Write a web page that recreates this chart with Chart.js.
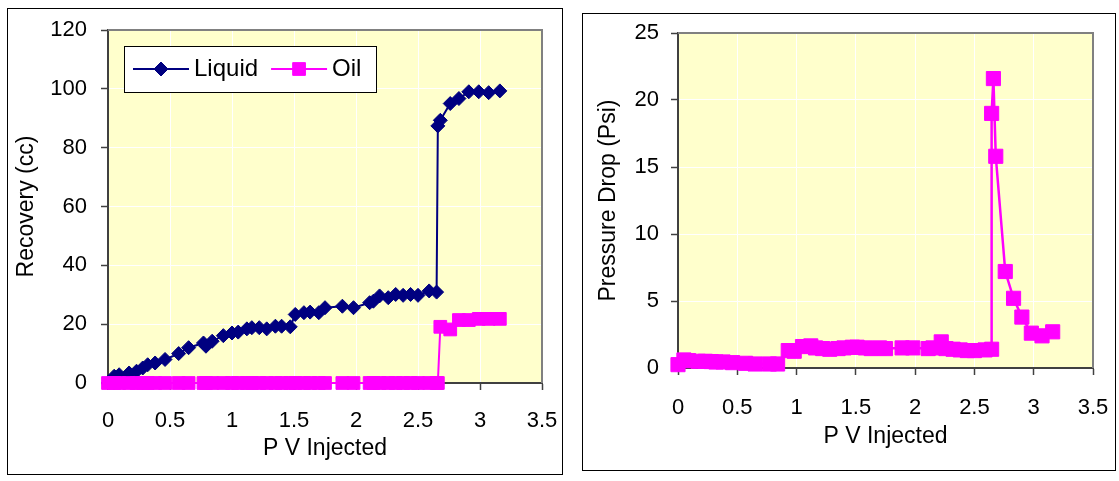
<!DOCTYPE html>
<html>
<head>
<meta charset="utf-8">
<script src="https://cdn.jsdelivr.net/npm/chart.js@4.4.0/dist/chart.umd.min.js"></script>
<style>
body{margin:0;background:#fff;width:1119px;height:481px;position:relative;overflow:hidden}
.frame{position:absolute;border:1px solid #000;box-sizing:border-box}
#f1{left:7px;top:8px;width:556px;height:467px}
#f2{left:582px;top:13px;width:534px;height:458px}
canvas{position:absolute}
#c1{left:8px;top:9px}
#c2{left:583px;top:14px}
</style>
</head>
<body>
<div class="frame" id="f1"></div>
<div class="frame" id="f2"></div>
<canvas id="c1" width="554" height="465"></canvas>
<canvas id="c2" width="532" height="456"></canvas>
<script>
// recovery chart (left)
var pvRec = [0, 0.05, 0.09, 0.17, 0.23, 0.28, 0.32, 0.38, 0.46, 0.57, 0.65, 0.77, 0.79, 0.84, 0.93, 1.0, 1.05, 1.12, 1.16, 1.22,
  1.28, 1.35, 1.40, 1.47, 1.51, 1.58, 1.63, 1.70, 1.75, 1.89, 1.98, 2.11, 2.14, 2.19, 2.26, 2.32, 2.38, 2.44, 2.50, 2.59,
  2.65, 2.66, 2.68, 2.76, 2.83, 2.91, 2.99, 3.07, 3.16];
var liquid = [0, 2.3, 2.8, 3.4, 4, 5.1, 6.2, 6.8, 8, 10, 12, 13.6, 12.5, 14.2, 16.1, 17, 17.3, 18.4, 18.8, 18.8,
  18.4, 19.3, 19.3, 19.1, 23.3, 23.9, 24.1, 23.9, 25.6, 26.1, 25.6, 27.3, 27.8, 29.6, 29, 30.1, 29.8, 30.1, 29.8, 31.3,
  30.9, 87.4, 89.3, 95, 96.7, 99, 99, 98.7, 99.3];
var oil = [0, 0, 0, 0, 0, 0, 0, 0, 0, 0, 0, 0, 0, 0, 0, 0, 0, 0, 0, 0,
  0, 0, 0, 0, 0, 0, 0, 0, 0, 0, 0, 0, 0, 0, 0, 0, 0, 0, 0, 0,
  0, 0, 19.1, 18.2, 21.4, 21.4, 21.8, 21.8, 21.8];

// pressure chart (right)
var pvDp = [0, 0.05, 0.09, 0.17, 0.23, 0.28, 0.32, 0.38, 0.46, 0.57, 0.65, 0.77, 0.84, 0.93, 0.98, 1.05, 1.12, 1.16, 1.22, 1.28,
  1.35, 1.40, 1.47, 1.51, 1.58, 1.63, 1.70, 1.75, 1.89, 1.98, 2.11, 2.15, 2.22, 2.26, 2.32, 2.38, 2.44, 2.50, 2.59, 2.645,
  2.645, 2.66, 2.68, 2.76, 2.83, 2.90, 2.98, 3.07, 3.16];
var dp = [0.25, 0.6, 0.55, 0.5, 0.5, 0.48, 0.45, 0.45, 0.4, 0.35, 0.3, 0.3, 0.3, 1.3, 1.25, 1.6, 1.65, 1.5, 1.45, 1.4,
  1.45, 1.5, 1.55, 1.55, 1.5, 1.45, 1.5, 1.45, 1.5, 1.5, 1.45, 1.5, 1.95, 1.45, 1.4, 1.35, 1.3, 1.3, 1.35, 1.4,
  19.0, 21.6, 15.8, 7.2, 5.2, 3.8, 2.6, 2.4, 2.7];

var xTitle = 'P V Injected';

Chart.defaults.font.family = '"Liberation Sans", Arial, sans-serif';
Chart.defaults.font.size = 22;
Chart.defaults.color = '#000';

function pts(xs, ys) {
    return xs.map(function (x, i) { return {x: x, y: ys[i]}; });
}

// scales must not push the plot area around, layout padding does that
function noPad(s) {
    s.paddingLeft = 0;
    s.paddingRight = 0;
    s.paddingTop = 0;
    s.paddingBottom = 0;
}

var plotBox = {
    id: 'plotBox',
    beforeDraw: function (chart) {
        var ctx = chart.ctx, a = chart.chartArea;
        ctx.save();
        ctx.fillStyle = '#FFFFCC';
        ctx.fillRect(a.left, a.top, a.right - a.left, a.bottom - a.top);
        ctx.restore();
    },
    beforeDatasetsDraw: function (chart) {
        var ctx = chart.ctx, a = chart.chartArea;
        ctx.save();
        ctx.strokeStyle = '#808080';
        ctx.lineWidth = 2;
        ctx.beginPath();
        ctx.moveTo(a.left, a.top);
        ctx.lineTo(a.right, a.top);
        ctx.lineTo(a.right, a.bottom);
        ctx.stroke();
        ctx.restore();
    }
};

var boxLegend = {
    id: 'boxLegend',
    afterDatasetsDraw: function (chart) {
        var ctx = chart.ctx, a = chart.chartArea;
        var x0 = a.left + 16, y0 = a.top + 16, w = 252, h = 46;
        ctx.save();
        ctx.fillStyle = '#fff';
        ctx.fillRect(x0, y0, w, h);
        ctx.strokeStyle = '#000';
        ctx.lineWidth = 1;
        ctx.strokeRect(x0 + 0.5, y0 + 0.5, w, h);
        ctx.font = '24px "Liberation Sans", Arial, sans-serif';
        ctx.textBaseline = 'middle';
        var x = x0 + 9, cy = y0 + h / 2;
        chart.data.datasets.forEach(function (ds) {
            ctx.strokeStyle = ds.borderColor;
            ctx.lineWidth = 2;
            ctx.beginPath();
            ctx.moveTo(x, cy);
            ctx.lineTo(x + 56, cy);
            ctx.stroke();
            ctx.fillStyle = ds.borderColor;
            ctx.lineWidth = 1;
            Chart.helpers.drawPoint(ctx, {pointStyle: ds.pointStyle, radius: ds.pointRadius, borderWidth: 1, rotation: 0}, x + 28, cy);
            ctx.fillStyle = '#000';
            ctx.fillText(ds.label, x + 61, cy);
            x += 61 + ctx.measureText(ds.label).width + 13;
        });
        ctx.restore();
    }
};

function xScale(h, tpad, lpad) {
    return {
        type: 'linear', min: 0, max: 3.5,
        ticks: {stepSize: 0.5, padding: lpad, callback: function (v) { return String(+v.toFixed(1)); }},
        grid: {color: '#ffffff', lineWidth: 1, tickColor: '#404040', tickLength: 7, tickWidth: 1.5},
        border: {color: '#404040', width: 2},
        title: {display: true, text: xTitle, font: {size: 23}, padding: {top: 0, bottom: tpad}},
        afterFit: function (s) { s.height = h; noPad(s); }
    };
}

function yScale(max, step, title, w, tpad, lpad) {
    return {
        min: 0, max: max,
        ticks: {stepSize: step, padding: lpad},
        grid: {color: '#ffffff', lineWidth: 1, tickColor: '#404040', tickLength: 7, tickWidth: 1.5},
        border: {color: '#404040', width: 2},
        title: {display: true, text: title, font: {size: 23}, padding: {top: tpad, bottom: 0}},
        afterFit: function (s) { s.width = w; noPad(s); }
    };
}

new Chart(document.getElementById('c1'), {
    type: 'line',
    data: {
        datasets: [{
            label: 'Liquid',
            data: pts(pvRec, liquid),
            borderColor: '#000080',
            backgroundColor: '#000080',
            borderWidth: 2,
            pointStyle: 'rectRot',
            pointRadius: 7,
            pointBorderWidth: 1,
            order: 1,
            clip: false
        }, {
            label: 'Oil',
            data: pts(pvRec, oil),
            borderColor: '#FF00FF',
            backgroundColor: '#FF00FF',
            borderWidth: 2,
            pointStyle: 'rect',
            pointRadius: 9,
            pointBorderWidth: 1,
            order: 0,
            clip: false
        }]
    },
    options: {
        responsive: false,
        animation: false,
        devicePixelRatio: 1,
        layout: {autoPadding: false, padding: {left: 0, top: 21, right: 20, bottom: 0}},
        plugins: {legend: {display: false}, tooltip: {enabled: false}},
        elements: {line: {tension: 0}},
        scales: {
            x: xScale(91, 12, 18),
            y: yScale(120, 20, 'Recovery (cc)', 100, 5, 14)
        }
    },
    plugins: [plotBox, boxLegend]
});

new Chart(document.getElementById('c2'), {
    type: 'line',
    data: {
        datasets: [{
            label: 'Pressure Drop',
            data: pts(pvDp, dp),
            borderColor: '#FF00FF',
            backgroundColor: '#FF00FF',
            borderWidth: 2.5,
            pointStyle: 'rect',
            pointRadius: 10,
            pointBorderWidth: 1,
            clip: false
        }]
    },
    options: {
        responsive: false,
        animation: false,
        devicePixelRatio: 1,
        layout: {autoPadding: false, padding: {left: 0, top: 19, right: 22, bottom: 0}},
        plugins: {legend: {display: false}, tooltip: {enabled: false}},
        elements: {line: {tension: 0}},
        scales: {
            x: xScale(102, 20, 20),
            y: yScale(25, 5, 'Pressure Drop (Psi)', 95, 12, 12)
        }
    },
    plugins: [plotBox]
});
</script>
</body>
</html>
